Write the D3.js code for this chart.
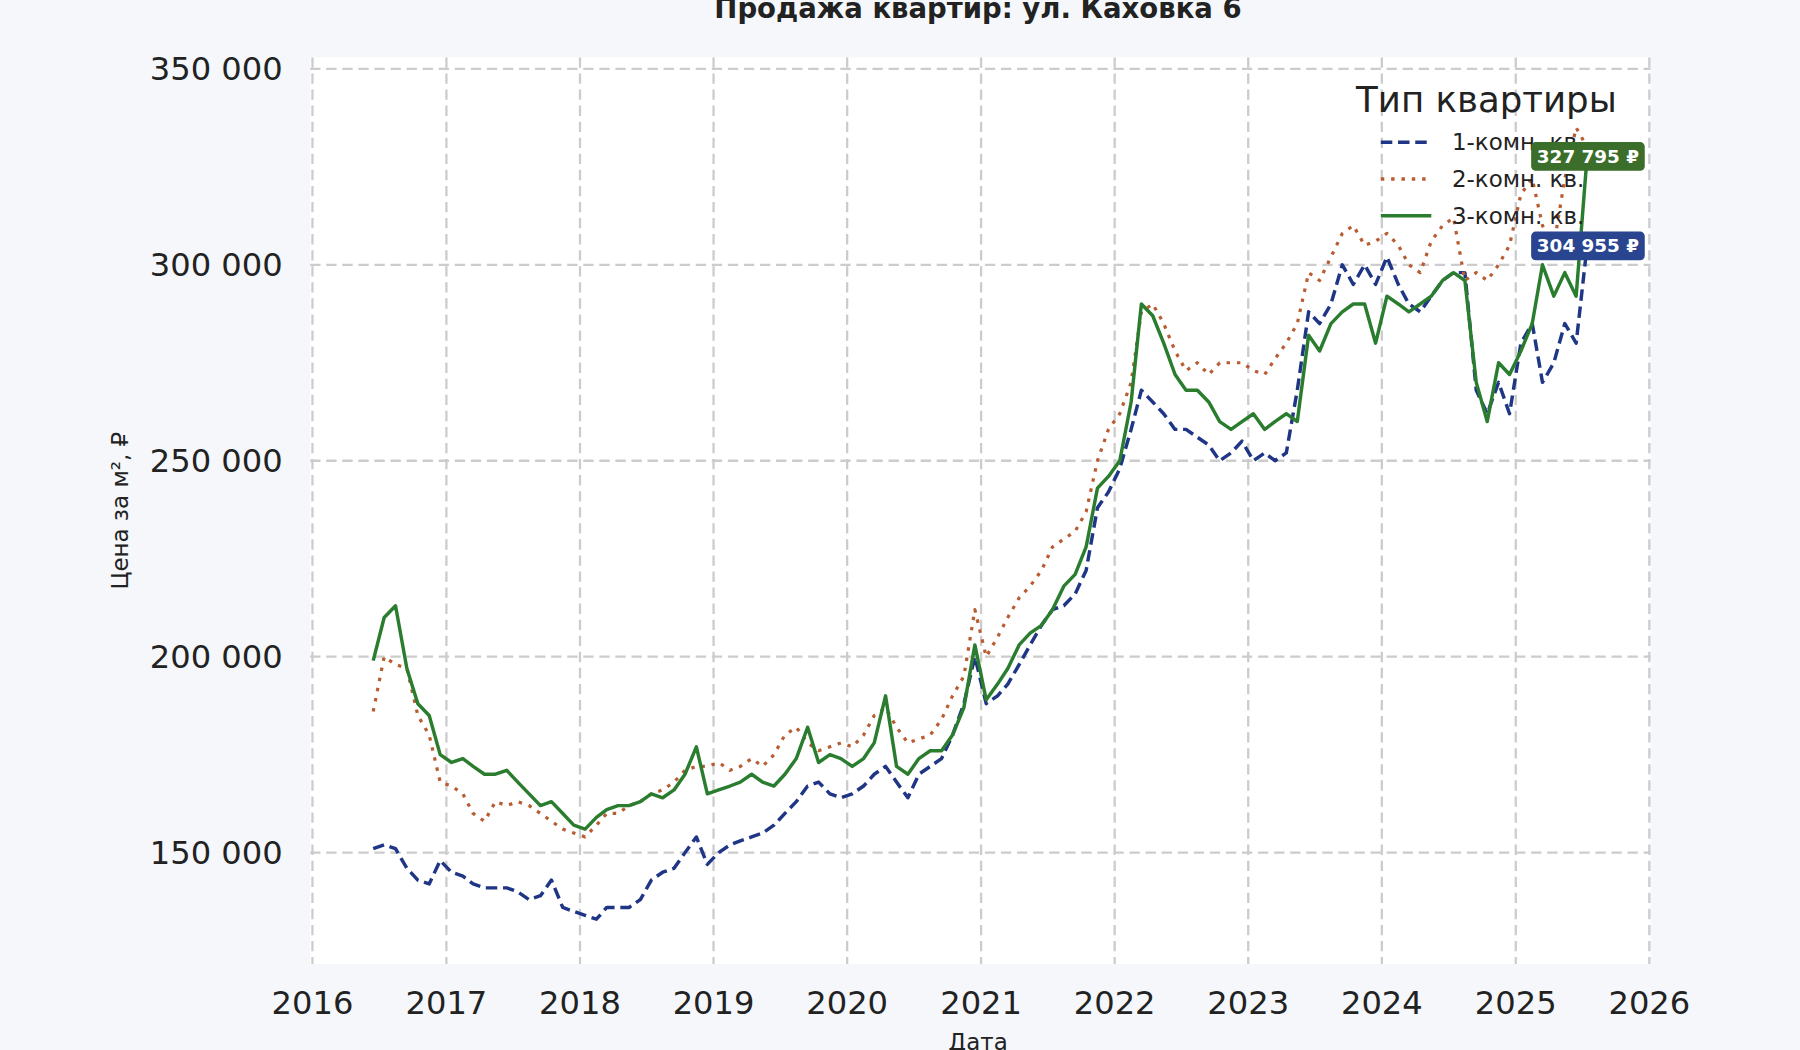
<!DOCTYPE html>
<html><head><meta charset="utf-8">
<script src="https://cdn.jsdelivr.net/npm/d3@7"></script>
<style>
body{margin:0;background:#f5f7fb;font-family:"DejaVu Sans",sans-serif}
</style></head>
<body><svg id="chart" width="1800" height="1050" viewBox="0 0 1568 915"></svg>
<script>
// monthly series, starting June 2016, values in thousand ₽ per m²
const startMonth = "2016-06"
const oneRoom = [151,152,151,146,143,142,148,
  145,144,142,141,141,141,140,138,139,143,136,135,
  134,133,136,136,136,138,143,145,146,150,154,147,
  150,152,153,154,155,157,160,163,167,168,165,164,
  165,167,170,172,168,164,170,172,174,180,188,200,
  188,190,193,198,203,208,212,213,216,222,238,242,
  248,258,268,265,262,258,258,256,254,250,252,255,
  250,252,250,252,268,288,285,290,300,295,300,295,
  302,295,290,288,292,296,298,298,268,262,270,262,
  280,285,270,275,285,280,304.955]
const twoRoom = [186,200,198,197,185,180,168,
  167,165,160,158,163,162,163,162,160,158,156,155,
  154,157,160,160,162,163,165,166,168,171,172,172,
  173,171,172,174,172,175,180,182,178,176,177,178,
  177,180,185,187,182,178,179,180,184,190,195,212,
  200,205,210,215,218,222,228,230,232,237,250,258,
  262,270,288,290,285,278,273,275,272,275,275,275,
  273,272,276,280,285,298,296,302,308,310,305,306,
  308,305,300,298,306,310,312,296,298,296,300,305,
  318,322,310,305,322,335,330]
const threeRoom = [199,210,213,197,188,185,175,
  173,174,172,170,170,171,168,165,162,163,160,157,
  156,159,161,162,162,163,165,164,166,170,177,165,
  166,167,168,170,168,167,170,174,182,173,175,174,
  172,174,178,190,172,170,174,176,176,180,187,203,
  189,193,197,203,206,208,212,218,221,228,243,246,
  250,265,290,287,280,272,268,268,265,260,258,260,
  262,258,260,262,260,282,278,285,288,290,290,280,
  292,290,288,290,292,296,298,296,270,260,275,272,
  278,285,300,292,298,292,327.795]
const seriesNames = ["1-комн. кв.","2-комн. кв.","3-комн. кв."]
const seriesColors = ["#1f3585","#b85c32","#2a7d2e"]
const badgeColors = ["#2a4590","#3b6e2a"]
const yTicks = [150000,200000,250000,300000,350000]
const xYears = d3.range(2016,2027)

const svg = d3.select("#chart")
const m = {l:270,r:1438,t:50,b:840}
const parse = d3.timeParse("%Y-%m")
const s0 = parse(startMonth)
const dates = oneRoom.map((_,i)=>d3.timeDay.offset(d3.timeMonth.offset(s0,i),14))

const x = d3.scaleTime().domain([new Date(2016,0,1),new Date(2026,0,1)]).range([272,1437])
const y = d3.scaleLinear().domain([150000,350000]).range([743,60])

svg.append("rect").attr("x",m.l).attr("y",m.t).attr("width",m.r-m.l).attr("height",m.b-m.t).attr("fill","#fff")

const fmt = v => d3.format(",")(v).replace(/,/g," ")

// grid
svg.append("g").selectAll("line").data(yTicks).join("line")
  .attr("x1",m.l).attr("x2",m.r).attr("y1",d=>y(d)).attr("y2",d=>y(d))
  .attr("stroke","#cccccc").attr("stroke-width",2).attr("stroke-dasharray","9,5")
svg.append("g").selectAll("line").data(xYears).join("line")
  .attr("y1",m.t).attr("y2",m.b).attr("x1",d=>x(new Date(d,0,1))).attr("x2",d=>x(new Date(d,0,1)))
  .attr("stroke","#cccccc").attr("stroke-width",2).attr("stroke-dasharray","9,5")

// tick labels
svg.append("g").selectAll("text").data(yTicks).join("text")
  .attr("x",246).attr("y",d=>y(d)+10).attr("text-anchor","end")
  .attr("font-size",28).attr("fill","#222").text(fmt)
svg.append("g").selectAll("text").data(xYears).join("text")
  .attr("x",d=>x(new Date(d,0,1))).attr("y",884).attr("text-anchor","middle")
  .attr("font-size",28).attr("fill","#222").text(d=>d)

svg.append("text").attr("x",852).attr("y",16).attr("text-anchor","middle")
  .attr("font-size",24).attr("font-weight","bold").attr("fill","#222").text("Продажа квартир: ул. Каховка 6")
svg.append("text").attr("x",852).attr("y",915).attr("text-anchor","middle")
  .attr("font-size",20).attr("fill","#222").text("Дата")
svg.append("text").attr("transform","translate(111,445) rotate(-90)").attr("text-anchor","middle")
  .attr("font-size",20).attr("fill","#222").text("Цена за м², ₽")

const dashes = ["10,5","3,6",null]
const line = d3.line().x((d,i)=>x(dates[i])).y(d=>y(d*1000))
;[oneRoom,twoRoom,threeRoom].forEach((s,k)=>{
  svg.append("path").datum(s).attr("d",line).attr("fill","none")
    .attr("stroke",seriesColors[k]).attr("stroke-width",k==1?2.8:3)
    .attr("stroke-dasharray",dashes[k]).attr("stroke-linejoin","round")
})

// legend
const lg = svg.append("g")
lg.append("text").attr("x",1295).attr("y",98).attr("text-anchor","middle")
  .attr("font-size",31).attr("fill","#222").text("Тип квартиры")
seriesNames.forEach((n,k)=>{
  const yy = 124 + k*32
  lg.append("line").attr("x1",1203).attr("x2",1247).attr("y1",yy).attr("y2",yy)
    .attr("stroke",seriesColors[k]).attr("stroke-width",3).attr("stroke-dasharray",dashes[k])
  lg.append("text").attr("x",1265).attr("y",yy+7).attr("font-size",20).attr("fill","#222").text(n)
})

// last value badges
const badges = [[threeRoom,badgeColors[1]],[oneRoom,badgeColors[0]]]
badges.forEach(([s,c])=>{
  const v = s[s.length-1]*1000
  const g = svg.append("g").attr("transform",`translate(1334,${y(v)-12})`)
  g.append("rect").attr("width",99).attr("height",25).attr("rx",4).attr("fill",c)
  g.append("text").attr("x",49.5).attr("y",18).attr("text-anchor","middle")
    .attr("font-size",16).attr("font-weight","bold").attr("fill","#fff").text(fmt(Math.round(v))+" ₽")
})
</script></body></html>
